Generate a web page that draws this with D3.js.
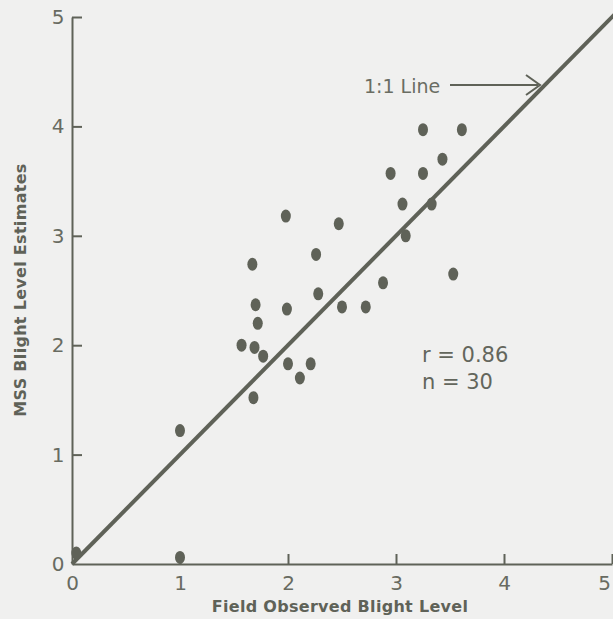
<!DOCTYPE html>
<html lang="en">
<head>
  <meta charset="UTF-8">
  <title>MSS Blight Level Estimates vs Field Observed</title>
  <script src="https://d3js.org/d3.v7.min.js"></script>
  <style>
    body {
      margin: 0;
      padding: 0;
      background: #f0f0ef;
    }
    svg {
      display: block;
    }
    .tick text {
      font-family: 'DejaVu Sans', sans-serif;
      font-size: 20px;
      fill: #686b61;
    }
  </style>
</head>
<body>
  <svg id="chart" width="613" height="619"></svg>

  <script>
    // values
    const fieldObserved = [0.04, 1.0, 1.0, 1.68, 1.57, 1.69, 1.77, 1.72, 1.70, 1.99,
                           2.28, 2.50, 2.72, 2.00, 2.21, 2.11, 1.67, 1.98, 2.26, 2.47,
                           2.88, 3.09, 3.06, 3.33, 2.95, 3.25, 3.43, 3.25, 3.61, 3.53];
    const mssEstimate   = [0.10, 0.06, 1.22, 1.52, 2.00, 1.98, 1.90, 2.20, 2.37, 2.33,
                           2.47, 2.35, 2.35, 1.83, 1.83, 1.70, 2.74, 3.18, 2.83, 3.11,
                           2.57, 3.00, 3.29, 3.29, 3.57, 3.57, 3.70, 3.97, 3.97, 2.65];
    const tickValues = [0, 1, 2, 3, 4, 5];
    const oneToOne = [0, 5.1];
    const stats = ["r = 0.86", "n = 30"];

    const ink = "#5f6258";
    const svg = d3.select("#chart");

    const x = d3.scaleLinear().domain([0, 5]).range([72, 612]);
    const y = d3.scaleLinear().domain([0, 5]).range([564, 17]);

    // axes, ticks pointing inward
    const xAxis = svg.append("g")
      .attr("transform", `translate(0,${y(0)})`)
      .call(d3.axisBottom(x).tickValues(tickValues).tickFormat(d3.format("d"))
        .tickSize(-10).tickSizeOuter(0).tickPadding(10));
    xAxis.selectAll("text").attr("dy", "0.8em");
    xAxis.selectAll(".tick").filter(d => d === 5).select("text").attr("dx", "-0.4em");

    const yAxis = svg.append("g")
      .attr("transform", `translate(${x(0)},0)`)
      .call(d3.axisLeft(y).tickValues(tickValues).tickFormat(d3.format("d"))
        .tickSize(-10).tickSizeOuter(0).tickPadding(10));
    yAxis.selectAll("text").attr("text-anchor", "middle").attr("dx", "-0.2em");

    svg.selectAll(".domain, .tick line")
      .attr("stroke", ink)
      .attr("stroke-width", 2);

    // no inner tick at the origin
    xAxis.selectAll(".tick").filter(d => d === 0).select("line").remove();
    yAxis.selectAll(".tick").filter(d => d === 0).select("line").remove();

    // 1:1 line
    svg.append("line")
      .attr("x1", x(oneToOne[0]))
      .attr("y1", y(oneToOne[0]))
      .attr("x2", x(oneToOne[1]))
      .attr("y2", y(oneToOne[1]))
      .attr("stroke", ink)
      .attr("stroke-width", 4);

    // points
    svg.append("g")
      .selectAll("ellipse")
      .data(d3.range(fieldObserved.length))
      .join("ellipse")
      .attr("cx", i => x(fieldObserved[i]))
      .attr("cy", i => y(mssEstimate[i]))
      .attr("rx", 5)
      .attr("ry", 6.5)
      .attr("fill", ink);

    // annotation "1:1 Line" with arrow
    svg.append("text")
      .attr("x", 364)
      .attr("y", 93)
      .style("font-family", "'DejaVu Sans', sans-serif")
      .style("font-size", "19px")
      .style("fill", "#6a6d63")
      .text("1:1 Line");

    svg.append("line")
      .attr("x1", 450).attr("y1", 85)
      .attr("x2", 538).attr("y2", 85)
      .attr("stroke", ink)
      .attr("stroke-width", 2);
    svg.append("path")
      .attr("d", "M526,75 L540,85 L526,95")
      .attr("fill", "none")
      .attr("stroke", ink)
      .attr("stroke-width", 2);

    // statistics
    svg.append("g")
      .selectAll("text")
      .data(stats)
      .join("text")
      .attr("x", 422)
      .attr("y", (d, i) => 362 + i * 27)
      .style("font-family", "'DejaVu Sans', sans-serif")
      .style("font-size", "21px")
      .style("fill", "#63665c")
      .text(d => d);

    // axis titles
    svg.append("text")
      .attr("x", 340)
      .attr("y", 612)
      .attr("text-anchor", "middle")
      .style("font-family", "'DejaVu Sans', sans-serif")
      .style("font-size", "16px")
      .style("font-weight", "bold")
      .style("letter-spacing", "0.3px")
      .style("fill", "#5f6258")
      .text("Field Observed Blight Level");

    svg.append("text")
      .attr("transform", "translate(26,290) rotate(-90)")
      .attr("text-anchor", "middle")
      .style("font-family", "'DejaVu Sans', sans-serif")
      .style("font-size", "16px")
      .style("font-weight", "bold")
      .style("letter-spacing", "0.3px")
      .style("fill", "#5f6258")
      .text("MSS Blight Level Estimates");
  </script>
</body>
</html>
